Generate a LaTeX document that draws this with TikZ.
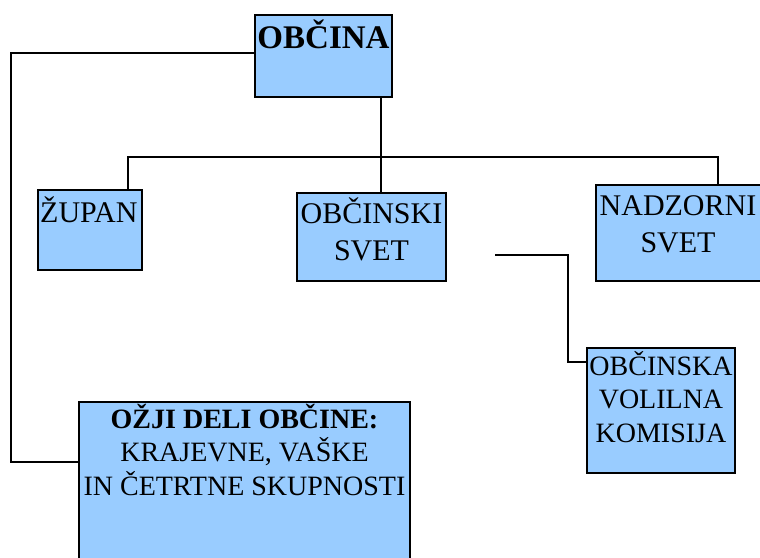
\documentclass[tikz,border=0pt]{standalone}
\usepackage{fontspec}
\setmainfont{Liberation Serif}
\usepackage{tikz}
\usetikzlibrary{positioning,calc}
\definecolor{boxblue}{HTML}{99CCFF}
\tikzset{
  orgbox/.style={rectangle,draw=black,line width=1.8pt,fill=boxblue,inner sep=0pt},
  orgtext/.style={inner sep=0pt,align=center,anchor=base,text=black},
  bigtext/.style={orgtext,font=\fontsize{30}{37}\selectfont},
  smalltext/.style={orgtext,font=\fontsize{28}{33.5}\selectfont},
  link/.style={line width=1.8pt,color=black},
}
\begin{document}
\begin{tikzpicture}[x=1pt,y=-1pt]
  \useasboundingbox (0,0) rectangle (760,557);
  \clip (0,0) rectangle (760,557);

  % boxes
  \node[orgbox,minimum width=137pt,minimum height=82pt] (obc) at (323.5,56) {};
  \node[orgbox,minimum width=104pt,minimum height=80pt] (zup) at (90,230) {};
  \node[orgbox,minimum width=149pt,minimum height=88pt] (svet) at (371.5,237) {};
  \node[orgbox,minimum width=179pt,minimum height=96pt] (nad) at (685.5,233) {};
  \node[orgbox,minimum width=148pt,minimum height=125pt] (ovk) at (661,410.5) {};
  \node[orgbox,minimum width=331pt,minimum height=178pt] (ozji) at (244.5,491) {};

  % texts (multi-line nodes sit on their last baseline)
  \node[orgtext,font=\fontsize{33}{38}\selectfont\bfseries] (obcT) at (323.5,48) {OBČINA};
  \node[bigtext,anchor=base west] (zupT) at (40,222) {ŽUPAN};
  \node[bigtext] (svetT) at (371.5,260) {OBČINSKI\\SVET};
  \node[bigtext] (nadT) at (678,252) {NADZORNI\\SVET};
  \node[smalltext] (ovkT) at (661,442) {OBČINSKA\\VOLILNA\\KOMISIJA};
  \node[smalltext] (ozjiT) at (244.5,495) {\textbf{OŽJI DELI OBČINE:}\\KRAJEVNE, VAŠKE\\IN ČETRTNE SKUPNOSTI};

  % connectors
  \coordinate (hub) at (381,157);
  \coordinate (left) at (11,462);
  \coordinate (svetR) at (495,255);
  \coordinate (bend) at (568,362);
  \draw[link] ([yshift=3pt]obc.west) -| (left) -- (ozji.west |- left);
  \draw[link] (obc.south -| hub) -- (svet.north -| hub);
  \draw[link] (zup.north -| 128,0) -- (128,157) -- (718,157) -- (nad.north -| 718,0);
  \draw[link] (svetR) -| (bend) -- (ovk.west |- bend);
\end{tikzpicture}
\end{document}
